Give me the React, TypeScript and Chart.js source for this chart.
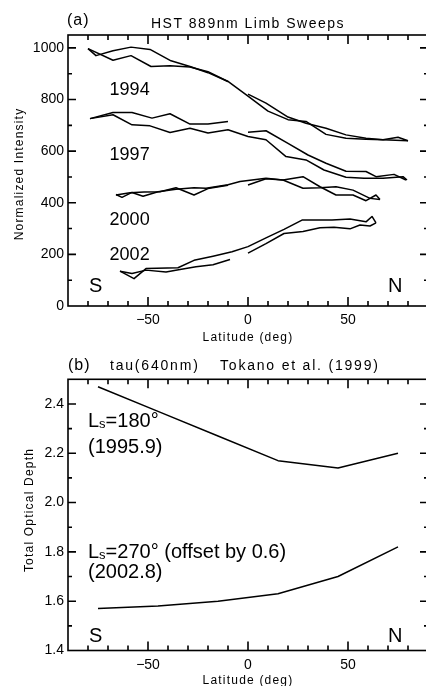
import React, { useEffect, useRef } from 'react';
import { Chart, registerables } from 'chart.js';

Chart.register(...registerables);

const FONT = '"Liberation Sans", Arial, Helvetica, sans-serif';

// ---------------- Panel (a): HST 889nm limb sweeps ----------------
const lat94a = [-80, -67.5, -58.5, -48.5, -39, -29, -20, -10, 0, 10, 20, 29, 39, 49, 59, 67.5, 75, 80];
const int94a = [997, 952, 970, 928, 931, 926, 908, 870, 813, 755, 722, 715, 665, 650, 646, 644, 654, 640];
const lat94bS = [-80, -76, -67.5, -58.5, -49, -38.5, -29, -20, -10];
const int94bS = [997, 970, 989, 1003, 994, 950, 928, 904, 870];
const lat94bN = [0, 9, 20, 29, 39, 49, 59, 67.5, 80];
const int94bN = [821, 786, 732, 708, 689, 663, 650, 644, 640];

const lat97a = [-79, -67.5, -58, -49, -39, -29, -20, -10, 0, 9, 19, 29, 38, 49, 58, 67.5, 77.5, 79.5];
const int97a = [726, 741, 702, 698, 672, 689, 670, 683, 657, 644, 579, 566, 527, 499, 495, 495, 501, 488];
const lat97bS = [-79, -67.5, -58, -48, -39, -29, -20, -10];
const int97bS = [726, 750, 750, 728, 745, 705, 705, 715];
const lat97bN = [0, 9, 20, 30, 39, 49, 59, 64, 73, 79];
const int97bN = [673, 679, 630, 585, 553, 522, 521, 501, 510, 488];

const lat00a = [-66, -63, -58, -52.5, -45, -36, -27, -21, -10, -4, 9, 17.5, 27.5, 36, 44, 52.5, 59, 64, 66];
const int00a = [432, 421, 440, 425, 443, 452, 458, 456, 470, 482, 495, 488, 501, 462, 430, 430, 408, 430, 413];
const lat00bS = [-66, -59, -52, -44, -36, -27, -20, -10];
const int00bS = [430, 439, 442, 443, 458, 430, 455, 468];
const lat00bN = [0, 9, 17.5, 27.5, 36, 44, 52.5, 61, 66];
const int00bN = [469, 493, 488, 456, 458, 462, 449, 417, 413];

const lat02a = [-64, -57, -51, -35, -27, -17.5, -8, 0, 9, 18, 27, 42, 51, 59, 62, 64];
const int02a = [135, 106, 145, 148, 177, 193, 210, 230, 264, 297, 333, 333, 337, 326, 347, 322];
const lat02bS = [-64, -58, -51, -41, -34, -26, -17.5, -9];
const int02bS = [135, 126, 139, 132, 141, 152, 160, 180];
const lat02bN = [0, 9, 18, 27.5, 36, 43, 51, 56, 61, 64];
const int02bN = [205, 242, 281, 289, 303, 305, 299, 314, 310, 322];

const yearLabels = ['1994', '1997', '2000', '2002'];
const yearLabelLat = -69.2;
const yearLabelVal = [817, 565, 314, 177];

// ---------------- Panel (b): Tokano et al. (1999) ----------------
const latTau = [-75, -45, -15, 15, 45, 75];
const tau180 = [2.47, 2.37, 2.27, 2.17, 2.14, 2.2];
const tau270 = [1.57, 1.58, 1.6, 1.63, 1.7, 1.82];

// ---------------- Axes ----------------
const xRange = [-90, 90];
const xTicks = [-50, 0, 50];
const xMinor = 10;
const yRangeA = [0, 1050];
const yTicksA = [0, 200, 400, 600, 800, 1000];
const yMinorA = 100;
const yRangeB = [1.4, 2.5];
const yTicksB = [1.4, 1.6, 1.8, 2.0, 2.2, 2.4];
const yMinorB = 0.1;

type Seg = { t: string; size: number; dy?: number; ls?: number };
type TextItem = { x: number; y: number; segs: Seg[]; align?: 'left' | 'center' | 'right'; rotate?: boolean };

function drawRich(ctx: CanvasRenderingContext2D, it: TextItem) {
  const c: any = ctx;
  const widths = it.segs.map((s) => {
    ctx.font = `${s.size}px ${FONT}`;
    c.letterSpacing = `${s.ls || 0}px`;
    return ctx.measureText(s.t).width;
  });
  const total = widths.reduce((a, b) => a + b, 0);
  ctx.save();
  ctx.translate(it.x, it.y);
  if (it.rotate) ctx.rotate(-Math.PI / 2);
  let cx = it.align === 'center' ? -total / 2 : it.align === 'right' ? -total : 0;
  ctx.textAlign = 'left';
  ctx.textBaseline = 'alphabetic';
  ctx.fillStyle = '#000';
  it.segs.forEach((s, i) => {
    ctx.font = `${s.size}px ${FONT}`;
    c.letterSpacing = `${s.ls || 0}px`;
    ctx.fillText(s.t, cx, s.dy || 0);
    cx += widths[i];
  });
  c.letterSpacing = '0px';
  ctx.restore();
}

function makeFrame(cfg: {
  xMajor: number[];
  xMinor: number;
  yMajor: number[];
  yMinor: number;
  texts: (a: any, xs: any, ys: any) => TextItem[];
}) {
  return {
    id: 'frame',
    afterDraw(chart: any) {
      const { ctx, chartArea: a, scales } = chart;
      const xs = scales.x;
      const ys = scales.y;
      ctx.save();
      ctx.strokeStyle = '#000';
      ctx.lineWidth = 1.6;
      ctx.strokeRect(a.left, a.top, a.right - a.left, a.bottom - a.top);
      ctx.beginPath();
      const nx = Math.round((xs.max - xs.min) / cfg.xMinor);
      for (let i = 1; i < nx; i++) {
        const v = xs.min + i * cfg.xMinor;
        const px = xs.getPixelForValue(v);
        const major = cfg.xMajor.some((m) => Math.abs(m - v) < 1e-6);
        const len = major ? 9 : 5;
        ctx.moveTo(px, a.bottom);
        ctx.lineTo(px, a.bottom - len);
        ctx.moveTo(px, a.top);
        ctx.lineTo(px, a.top + len);
      }
      const ny = Math.round((ys.max - ys.min) / cfg.yMinor);
      for (let i = 1; i < ny; i++) {
        const v = ys.min + i * cfg.yMinor;
        const py = ys.getPixelForValue(v);
        const major = cfg.yMajor.some((m) => Math.abs(m - v) < 1e-6);
        const len = major ? 8 : 4;
        ctx.moveTo(a.left, py);
        ctx.lineTo(a.left + len, py);
        ctx.moveTo(a.right, py);
        ctx.lineTo(a.right - len, py);
      }
      ctx.stroke();
      cfg.texts(a, xs, ys).forEach((it) => drawRich(ctx, it));
      ctx.restore();
    },
  };
}

const lineDs = (lats: number[], vals: number[]) => ({
  data: lats.map((x, i) => ({ x, y: vals[i] })),
  borderColor: '#000',
  borderWidth: 1.5,
  pointRadius: 0,
  fill: false,
  tension: 0,
  borderJoinStyle: 'round' as const,
});

const fmtX = (v: number) => (v < 0 ? '\u2212' + Math.abs(v) : String(v));

function baseOptions(
  yRange: number[],
  yTicks: number[],
  yFmt: (v: number) => string,
  padTop: number,
  xAxisH: number
): any {
  return {
    animation: false,
    responsive: false,
    devicePixelRatio: 1,
    layout: { padding: { top: padTop, right: 2, bottom: 0, left: 0 } },
    plugins: { legend: { display: false }, tooltip: { enabled: false }, title: { display: false } },
    scales: {
      x: {
        type: 'linear',
        min: xRange[0],
        max: xRange[1],
        grid: { display: false, drawTicks: false },
        border: { display: false },
        afterBuildTicks: (s: any) => {
          s.ticks = xTicks.map((v) => ({ value: v }));
        },
        afterFit: (s: any) => {
          s.height = xAxisH;
        },
        ticks: {
          padding: 6,
          autoSkip: false,
          maxRotation: 0,
          color: '#000',
          font: { family: FONT, size: 14 },
          callback: (v: number) => fmtX(v),
        },
      },
      y: {
        type: 'linear',
        min: yRange[0],
        max: yRange[1],
        grid: { display: false, drawTicks: false },
        border: { display: false },
        afterBuildTicks: (s: any) => {
          s.ticks = yTicks.map((v) => ({ value: v }));
        },
        afterFit: (s: any) => {
          s.width = 68;
        },
        ticks: {
          padding: 4,
          autoSkip: false,
          color: '#000',
          font: { family: FONT, size: 14 },
          callback: (v: number) => yFmt(v),
        },
      },
    },
  };
}

export default function App() {
  const refA = useRef<HTMLCanvasElement>(null);
  const refB = useRef<HTMLCanvasElement>(null);

  useEffect(() => {
    const chartA = new Chart(refA.current as HTMLCanvasElement, {
      type: 'line',
      data: {
        datasets: [
          lineDs(lat94a, int94a),
          lineDs(lat94bS, int94bS),
          lineDs(lat94bN, int94bN),
          lineDs(lat97a, int97a),
          lineDs(lat97bS, int97bS),
          lineDs(lat97bN, int97bN),
          lineDs(lat00a, int00a),
          lineDs(lat00bS, int00bS),
          lineDs(lat00bN, int00bN),
          lineDs(lat02a, int02a),
          lineDs(lat02bS, int02bS),
          lineDs(lat02bN, int02bN),
        ],
      },
      options: baseOptions(yRangeA, yTicksA, (v) => String(v), 35, 38),
      plugins: [
        makeFrame({
          xMajor: xTicks,
          xMinor,
          yMajor: yTicksA,
          yMinor: yMinorA,
          texts: (a, xs, ys) => [
            { x: a.left - 1, y: a.top - 10, segs: [{ t: '(a)', size: 16, ls: 1 }] },
            { x: (a.left + a.right) / 2, y: a.top - 6.7, segs: [{ t: 'HST 889nm Limb Sweeps', size: 14, ls: 1.5 }], align: 'center' },
            { x: (a.left + a.right) / 2, y: a.bottom + 34.5, segs: [{ t: 'Latitude (deg)', size: 12, ls: 1.2 }], align: 'center' },
            { x: 22.5, y: 174, segs: [{ t: 'Normalized Intensity', size: 12, ls: 1.2 }], align: 'center', rotate: true },
            ...yearLabels.map((t, i) => ({
              x: xs.getPixelForValue(yearLabelLat),
              y: ys.getPixelForValue(yearLabelVal[i]),
              segs: [{ t, size: 18 }],
            })),
            { x: xs.getPixelForValue(-79.5), y: ys.getPixelForValue(54), segs: [{ t: 'S', size: 20 }] },
            { x: xs.getPixelForValue(70), y: ys.getPixelForValue(54), segs: [{ t: 'N', size: 20 }] },
          ],
        }),
      ],
    } as any);

    const chartB = new Chart(refB.current as HTMLCanvasElement, {
      type: 'line',
      data: {
        datasets: [lineDs(latTau, tau180), lineDs(latTau, tau270)],
      },
      options: baseOptions(yRangeB, yTicksB, (v) => v.toFixed(1), 35.3, 35.5),
      plugins: [
        makeFrame({
          xMajor: xTicks,
          xMinor,
          yMajor: yTicksB,
          yMinor: yMinorB,
          texts: (a, xs, ys) => [
            { x: a.left, y: a.top - 9.3, segs: [{ t: '(b)', size: 16, ls: 1 }] },
            { x: 110, y: a.top - 9.3, segs: [{ t: 'tau(640nm)', size: 14, ls: 1.8 }] },
            { x: 220, y: a.top - 9.3, segs: [{ t: 'Tokano et al. (1999)', size: 14, ls: 1.8 }] },
            { x: (a.left + a.right) / 2, y: a.bottom + 33, segs: [{ t: 'Latitude (deg)', size: 12, ls: 1.2 }], align: 'center' },
            { x: 33, y: 166, segs: [{ t: 'Total Optical Depth', size: 12, ls: 1.2 }], align: 'center', rotate: true },
            {
              x: xs.getPixelForValue(-80),
              y: ys.getPixelForValue(2.308),
              segs: [{ t: 'L', size: 20 }, { t: 's', size: 13, dy: 1 }, { t: '=180°', size: 20 }],
            },
            { x: xs.getPixelForValue(-80), y: ys.getPixelForValue(2.203), segs: [{ t: '(1995.9)', size: 20 }] },
            {
              x: xs.getPixelForValue(-80),
              y: ys.getPixelForValue(1.774),
              segs: [{ t: 'L', size: 20 }, { t: 's', size: 13, dy: 1 }, { t: '=270° (offset by 0.6)', size: 20 }],
            },
            { x: xs.getPixelForValue(-80), y: ys.getPixelForValue(1.695), segs: [{ t: '(2002.8)', size: 20 }] },
            { x: xs.getPixelForValue(-79.5), y: ys.getPixelForValue(1.436), segs: [{ t: 'S', size: 20 }] },
            { x: xs.getPixelForValue(70), y: ys.getPixelForValue(1.436), segs: [{ t: 'N', size: 20 }] },
          ],
        }),
      ],
    } as any);

    return () => {
      chartA.destroy();
      chartB.destroy();
    };
  }, []);

  return (
    <div
      style={{
        position: 'absolute',
        left: 0,
        top: 0,
        width: 426,
        height: 686,
        overflow: 'hidden',
        background: '#fff',
      }}
    >
      <canvas ref={refA} width={430} height={344} style={{ position: 'absolute', left: 0, top: 0 }} />
      <canvas ref={refB} width={430} height={342} style={{ position: 'absolute', left: 0, top: 344 }} />
    </div>
  );
}
